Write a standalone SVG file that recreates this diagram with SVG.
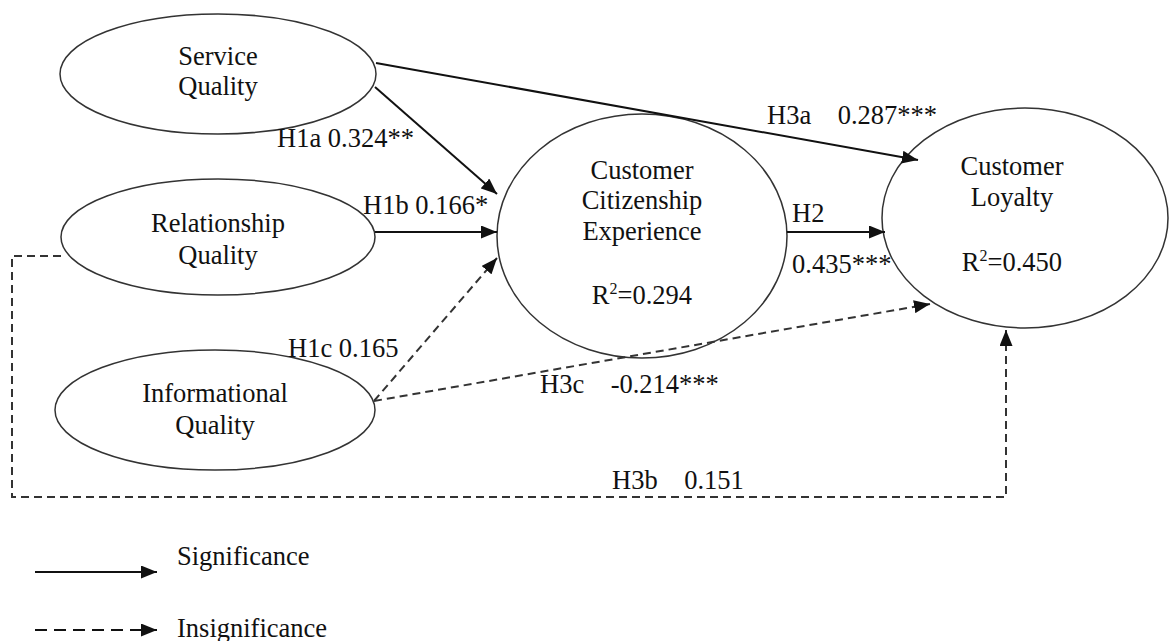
<svg xmlns="http://www.w3.org/2000/svg" width="1171" height="641" viewBox="0 0 1171 641">
<style>
.node ellipse{fill:#fff;stroke:#333;stroke-width:1.5}
text{font-family:"Liberation Serif","Times New Roman",serif;font-size:26.5px;fill:#111}
.c{text-anchor:middle}
.s{fill:none;stroke:#111;stroke-width:2}
.d{fill:none;stroke:#333;stroke-width:2;stroke-dasharray:8,5}
.sup{font-size:16px}
</style>
<defs>
<marker id="ah" viewBox="0 0 16 13" refX="16" refY="6.5" markerWidth="16" markerHeight="13" markerUnits="userSpaceOnUse" orient="auto">
<path d="M0,0 L16,6.5 L0,13 Z" fill="#111"/>
</marker>
</defs>
<rect width="1171" height="641" fill="#fff"/>
<g id="sq" class="node">
<ellipse cx="218" cy="74" rx="158" ry="60"/>
<text class="c" x="218" y="65">Service</text>
<text class="c" x="218" y="95">Quality</text>
</g>
<g id="rq" class="node">
<ellipse cx="218" cy="237" rx="157" ry="58"/>
<text class="c" x="218" y="232">Relationship</text>
<text class="c" x="218" y="264">Quality</text>
</g>
<g id="iq" class="node">
<ellipse cx="215" cy="410" rx="160" ry="60"/>
<text class="c" x="215" y="402">Informational</text>
<text class="c" x="215" y="434">Quality</text>
</g>
<g id="cce" class="node">
<ellipse cx="642" cy="236" rx="145" ry="122"/>
<text class="c" x="642" y="179">Customer</text>
<text class="c" x="642" y="209">Citizenship</text>
<text class="c" x="642" y="240">Experience</text>
<text class="c" x="642" y="304">R<tspan class="sup" dy="-10">2</tspan><tspan dy="10">=0.294</tspan></text>
</g>
<g id="cl" class="node">
<ellipse cx="1025" cy="218" rx="143" ry="110"/>
<text class="c" x="1012" y="175">Customer</text>
<text class="c" x="1012" y="206">Loyalty</text>
<text class="c" x="1012" y="271">R<tspan class="sup" dy="-10">2</tspan><tspan dy="10">=0.450</tspan></text>
</g>
<g id="connectors">
<line class="s" x1="376" y1="63" x2="918" y2="160" marker-end="url(#ah)"/>
<line class="s" x1="375" y1="87" x2="497" y2="194" marker-end="url(#ah)"/>
<line class="s" x1="375" y1="232" x2="497" y2="232" marker-end="url(#ah)"/>
<line class="d" x1="374" y1="401" x2="497" y2="258" marker-end="url(#ah)"/>
<line class="d" x1="374" y1="401" x2="930" y2="304" marker-end="url(#ah)"/>
<line class="s" x1="787" y1="232" x2="885" y2="232" marker-end="url(#ah)"/>
<polyline class="d" points="61,256 12,256 12,497 1006,497 1006,330" marker-end="url(#ah)"/>
</g>
<g id="labels">
<text x="277" y="147">H1a 0.324**</text>
<text x="363" y="214">H1b 0.166*</text>
<text x="288" y="357">H1c 0.165</text>
<text x="767" y="124" xml:space="preserve">H3a    0.287***</text>
<text x="792" y="222">H2</text>
<text x="792" y="273">0.435***</text>
<text x="540" y="393" xml:space="preserve">H3c    -0.214***</text>
<text x="612" y="489" xml:space="preserve">H3b    0.151</text>
</g>
<g id="legend">
<line class="s" x1="35" y1="572" x2="157" y2="572" marker-end="url(#ah)"/>
<line x1="35" y1="630" x2="157" y2="630" stroke="#111" stroke-width="2" stroke-dasharray="12,7" marker-end="url(#ah)"/>
<text x="177" y="565">Significance</text>
<text x="177" y="637">Insignificance</text>
</g>
</svg>
